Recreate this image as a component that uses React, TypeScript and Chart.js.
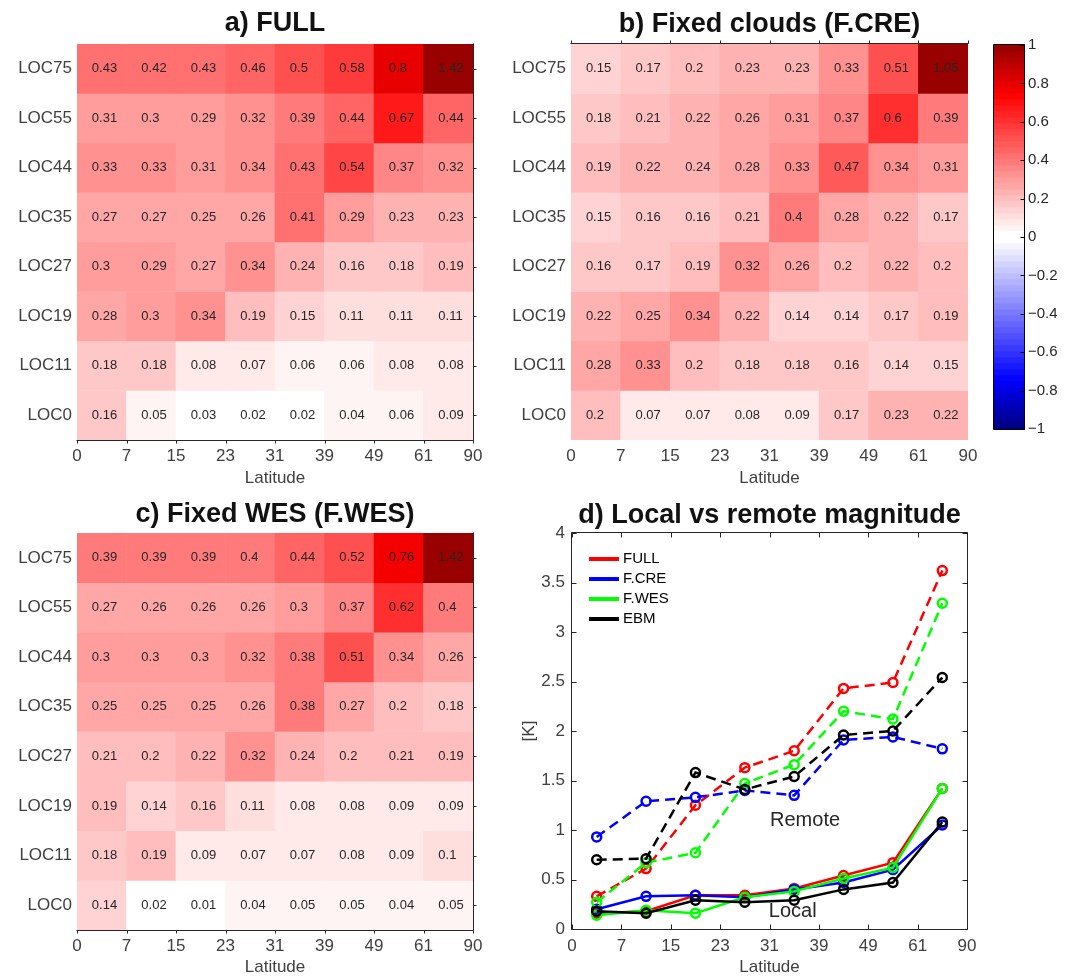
import React, { useEffect, useRef } from 'react';
import { Chart, registerables } from 'chart.js';

Chart.register(...registerables);

const FONT = '"Liberation Sans", Arial, Helvetica, sans-serif';
Chart.defaults.font.family = FONT;
Chart.defaults.color = '#404040';

// ---------------- data ----------------
const ROW_LABELS = ['LOC75', 'LOC55', 'LOC44', 'LOC35', 'LOC27', 'LOC19', 'LOC11', 'LOC0'];
const LAT_EDGES = ['0', '7', '15', '23', '31', '39', '49', '61', '90'];
const LAT_BIN_X = [0.5, 1.5, 2.5, 3.5, 4.5, 5.5, 6.5, 7.5];

const FULL_VALUES = [
  [0.43, 0.42, 0.43, 0.46, 0.5, 0.58, 0.8, 1.42],
  [0.31, 0.3, 0.29, 0.32, 0.39, 0.44, 0.67, 0.44],
  [0.33, 0.33, 0.31, 0.34, 0.43, 0.54, 0.37, 0.32],
  [0.27, 0.27, 0.25, 0.26, 0.41, 0.29, 0.23, 0.23],
  [0.3, 0.29, 0.27, 0.34, 0.24, 0.16, 0.18, 0.19],
  [0.28, 0.3, 0.34, 0.19, 0.15, 0.11, 0.11, 0.11],
  [0.18, 0.18, 0.08, 0.07, 0.06, 0.06, 0.08, 0.08],
  [0.16, 0.05, 0.03, 0.02, 0.02, 0.04, 0.06, 0.09],
];
const FCRE_VALUES = [
  [0.15, 0.17, 0.2, 0.23, 0.23, 0.33, 0.51, 1.05],
  [0.18, 0.21, 0.22, 0.26, 0.31, 0.37, 0.6, 0.39],
  [0.19, 0.22, 0.24, 0.28, 0.33, 0.47, 0.34, 0.31],
  [0.15, 0.16, 0.16, 0.21, 0.4, 0.28, 0.22, 0.17],
  [0.16, 0.17, 0.19, 0.32, 0.26, 0.2, 0.22, 0.2],
  [0.22, 0.25, 0.34, 0.22, 0.14, 0.14, 0.17, 0.19],
  [0.28, 0.33, 0.2, 0.18, 0.18, 0.16, 0.14, 0.15],
  [0.2, 0.07, 0.07, 0.08, 0.09, 0.17, 0.23, 0.22],
];
const FWES_VALUES = [
  [0.39, 0.39, 0.39, 0.4, 0.44, 0.52, 0.76, 1.42],
  [0.27, 0.26, 0.26, 0.26, 0.3, 0.37, 0.62, 0.4],
  [0.3, 0.3, 0.3, 0.32, 0.38, 0.51, 0.34, 0.26],
  [0.25, 0.25, 0.25, 0.26, 0.38, 0.27, 0.2, 0.18],
  [0.21, 0.2, 0.22, 0.32, 0.24, 0.2, 0.21, 0.19],
  [0.19, 0.14, 0.16, 0.11, 0.08, 0.08, 0.09, 0.09],
  [0.18, 0.19, 0.09, 0.07, 0.07, 0.08, 0.09, 0.1],
  [0.14, 0.02, 0.01, 0.04, 0.05, 0.05, 0.04, 0.05],
];

const SERIES_NAMES = ['FULL', 'F.CRE', 'F.WES', 'EBM'];
const REMOTE_FULL = [0.33, 0.61, 1.25, 1.63, 1.8, 2.43, 2.49, 3.62];
const REMOTE_FCRE = [0.93, 1.29, 1.33, 1.4, 1.35, 1.91, 1.94, 1.82];
const REMOTE_FWES = [0.27, 0.67, 0.77, 1.47, 1.66, 2.2, 2.12, 3.29];
const REMOTE_EBM = [0.7, 0.71, 1.58, 1.41, 1.54, 1.96, 2.0, 2.54];
const LOCAL_FULL = [0.16, 0.18, 0.34, 0.34, 0.41, 0.54, 0.67, 1.42];
const LOCAL_FCRE = [0.2, 0.33, 0.34, 0.32, 0.4, 0.47, 0.6, 1.05];
const LOCAL_FWES = [0.14, 0.19, 0.16, 0.32, 0.38, 0.51, 0.62, 1.42];
const LOCAL_EBM = [0.18, 0.16, 0.29, 0.27, 0.29, 0.4, 0.47, 1.08];

const CB_TICKS = [-1, -0.8, -0.6, -0.4, -0.2, 0, 0.2, 0.4, 0.6, 0.8, 1];

// ---------------- styles ----------------
const SERIES_COLORS = ['#ff0000', '#0000ff', '#00ff00', '#000000'];
const LEVELS_PER_SIDE = 32;
const RED_END = 153;
const BLUE_END = 135;

function colorFor(v: number): string {
  const a = Math.min(Math.abs(v), 1);
  const k = Math.min(Math.floor(a * LEVELS_PER_SIDE), LEVELS_PER_SIDE - 1);
  const c = k / (LEVELS_PER_SIDE - 1);
  const end = v >= 0 ? RED_END : BLUE_END;
  let hi: number, lo: number;
  if (c <= 0.75) {
    hi = 255;
    lo = Math.round(255 * (1 - c / 0.75));
  } else {
    hi = Math.round(255 - ((c - 0.75) / 0.25) * (255 - end));
    lo = 0;
  }
  return v >= 0 ? `rgb(${hi},${lo},${lo})` : `rgb(${lo},${lo},${hi})`;
}

function fmtCb(v: number): string {
  const r = Math.round(v * 10) / 10;
  if (r === 0) return '0';
  return (r < 0 ? '\u2212' : '') + String(Math.abs(r));
}

// ---------------- plugins ----------------
const cellLabelPlugin = {
  id: 'cellLabels',
  afterDatasetsDraw(chart: any) {
    const { ctx, scales } = chart;
    const x = scales.x, y = scales.y;
    ctx.save();
    ctx.font = `13px ${FONT}`;
    ctx.fillStyle = '#262626';
    ctx.textAlign = 'left';
    ctx.textBaseline = 'middle';
    chart.data.datasets.forEach((ds: any) => {
      ds.data.forEach((d: any) => {
        const px = x.getPixelForValue(d.x - 0.2);
        const py = y.getPixelForValue((d.y[0] + d.y[1]) / 2);
        ctx.fillText(String(d.v), px, py);
      });
    });
    ctx.restore();
  },
};

const framePlugin = {
  id: 'frame',
  afterDraw(chart: any, _args: any, o: any) {
    const { ctx, chartArea: ca, scales } = chart;
    const l = Math.round(ca.left) - 0.5;
    const r = Math.round(ca.right) + 0.5;
    const t = Math.round(ca.top) - 0.5;
    const b = Math.round(ca.bottom) + 0.5;
    const sides: string[] = o.sides || [];
    ctx.save();
    ctx.strokeStyle = o.color || '#262626';
    ctx.lineWidth = 1;
    ctx.beginPath();
    if (sides.includes('top')) { ctx.moveTo(l, t); ctx.lineTo(r, t); }
    if (sides.includes('bottom')) { ctx.moveTo(l, b); ctx.lineTo(r, b); }
    if (sides.includes('left')) { ctx.moveTo(l, t); ctx.lineTo(l, b); }
    if (sides.includes('right')) { ctx.moveTo(r, t); ctx.lineTo(r, b); }
    const len = o.tickLen || 4;
    const sign = o.tickDir === 'in' ? 1 : -1;
    (o.tickSides || []).forEach((side: string) => {
      const horiz = side === 'top' || side === 'bottom';
      const sc = horiz ? scales.x : scales.y;
      if (!sc) return;
      sc.ticks.forEach((tk: any) => {
        const p = Math.round(sc.getPixelForValue(tk.value)) + 0.5;
        if (side === 'bottom') { ctx.moveTo(p, b); ctx.lineTo(p, b - sign * len); }
        if (side === 'top') { ctx.moveTo(p, t); ctx.lineTo(p, t + sign * len); }
        if (side === 'left') { ctx.moveTo(l, p); ctx.lineTo(l + sign * len, p); }
        if (side === 'right') { ctx.moveTo(r, p); ctx.lineTo(r - sign * len, p); }
      });
    });
    ctx.stroke();
    ctx.restore();
  },
};

const lineLegendPlugin = {
  id: 'lineLegend',
  afterDraw(chart: any, _args: any, o: any) {
    const { ctx, chartArea: ca } = chart;
    const items = chart.data.datasets.filter((d: any) => d.showInLegend);
    ctx.save();
    ctx.font = `${o.fontSize}px ${FONT}`;
    ctx.textAlign = 'left';
    ctx.textBaseline = 'middle';
    items.forEach((d: any, i: number) => {
      const y = ca.top + o.offsetY + i * o.spacing;
      const x = ca.left + o.offsetX;
      ctx.strokeStyle = d.borderColor;
      ctx.lineWidth = o.lineWidth;
      ctx.setLineDash([]);
      ctx.beginPath();
      ctx.moveTo(x, y);
      ctx.lineTo(x + o.lineLength, y);
      ctx.stroke();
      ctx.fillStyle = '#000';
      ctx.fillText(d.label, x + o.lineLength + 4, y);
    });
    ctx.restore();
  },
};

const textNotePlugin = {
  id: 'textNotes',
  afterDraw(chart: any, _args: any, o: any) {
    const { ctx, scales } = chart;
    ctx.save();
    ctx.font = `${o.fontSize}px ${FONT}`;
    ctx.fillStyle = '#262626';
    ctx.textAlign = 'center';
    ctx.textBaseline = 'middle';
    (o.items || []).forEach((it: any) => {
      ctx.fillText(it.text, scales.x.getPixelForValue(it.x), scales.y.getPixelForValue(it.y));
    });
    ctx.restore();
  },
};

// ---------------- configs ----------------
function heatmapConfig(title: string, values: number[][], L: any): any {
  const n = ROW_LABELS.length;
  const datasets = values.map((row, i) => {
    const yIdx = n - 1 - i;
    return {
      label: ROW_LABELS[i],
      data: row.map((v, c) => ({ x: LAT_BIN_X[c], y: [yIdx, yIdx + 1], v })),
      backgroundColor: row.map(colorFor),
      borderWidth: 0,
      grouped: false,
      barPercentage: 1,
      categoryPercentage: 1,
    };
  });
  return {
    type: 'bar',
    data: { datasets },
    options: {
      animation: false,
      responsive: false,
      events: [],
      layout: { padding: { left: 0, right: L.rightPad, top: 0, bottom: 0 } },
      plugins: {
        legend: { display: false },
        tooltip: { enabled: false },
        title: {
          display: true,
          text: title,
          fullSize: false,
          color: '#111',
          font: { size: 27, weight: 'bold', lineHeight: 1 },
          padding: { top: L.titleTop, bottom: L.titleBottom },
        },
        frame: { color: '#262626', sides: L.sides, tickSides: L.tickSides, tickLen: 3, tickDir: 'out' },
      },
      scales: {
        x: {
          type: 'linear',
          min: 0,
          max: 8,
          offset: false,
          grid: { display: false, offset: false, drawTicks: false },
          border: { display: false },
          ticks: {
            stepSize: 1,
            autoSkip: false,
            maxRotation: 0,
            padding: 6.5,
            font: { size: 17 },
            callback: (v: number) => LAT_EDGES[v] ?? '',
          },
          title: { display: true, text: 'Latitude', font: { size: 17, lineHeight: 1 }, padding: { top: 0, bottom: L.xTitleBottom } },
          afterFit: (s: any) => { s.height = L.xHeight; },
        },
        y: {
          type: 'linear',
          min: 0,
          max: n,
          grid: { display: false, drawTicks: false },
          border: { display: false },
          afterBuildTicks: (s: any) => { s.ticks = ROW_LABELS.map((_, i) => ({ value: i + 0.5 })); },
          ticks: {
            autoSkip: false,
            padding: 5,
            font: { size: 17 },
            callback: (_v: number, i: number) => ROW_LABELS[n - 1 - i],
          },
          afterFit: (s: any) => { s.width = L.yWidth; },
        },
      },
    },
    plugins: [cellLabelPlugin, framePlugin],
  };
}

function colorbarConfig(): any {
  const data: any[] = [];
  const colors: string[] = [];
  for (let k = LEVELS_PER_SIDE - 1; k >= 0; k--) {
    const c = -(k + 0.5) / LEVELS_PER_SIDE;
    data.push({ y: c, x: [0, 1] });
    colors.push(colorFor(c));
  }
  for (let k = 0; k < LEVELS_PER_SIDE; k++) {
    const c = (k + 0.5) / LEVELS_PER_SIDE;
    data.push({ y: c, x: [0, 1] });
    colors.push(colorFor(c));
  }
  return {
    type: 'bar',
    data: {
      datasets: [{ label: 'colorbar', data, backgroundColor: colors, borderWidth: 0, barPercentage: 1, categoryPercentage: 1 }],
    },
    options: {
      animation: false,
      responsive: false,
      events: [],
      indexAxis: 'y',
      layout: { padding: { left: 9, right: 0, top: 45, bottom: 61 } },
      plugins: {
        legend: { display: false },
        tooltip: { enabled: false },
        frame: { color: '#000', sides: ['top', 'bottom', 'left', 'right'], tickSides: ['right'], tickLen: 4, tickDir: 'in' },
      },
      scales: {
        x: { type: 'linear', display: false, min: 0, max: 1 },
        y: {
          type: 'linear',
          position: 'right',
          min: -1,
          max: 1,
          offset: false,
          grid: { display: false, offset: false, drawTicks: false },
          border: { display: false },
          afterBuildTicks: (s: any) => { s.ticks = CB_TICKS.map((v) => ({ value: v })); },
          ticks: { autoSkip: false, padding: 4, font: { size: 15 }, color: '#262626', callback: (v: number) => fmtCb(v) },
          afterFit: (s: any) => { s.width = 43; },
        },
      },
    },
    plugins: [framePlugin],
  };
}

function linesConfig(): any {
  const remote = [REMOTE_FULL, REMOTE_FCRE, REMOTE_FWES, REMOTE_EBM];
  const local = [LOCAL_FULL, LOCAL_FCRE, LOCAL_FWES, LOCAL_EBM];
  const datasets: any[] = [];
  SERIES_NAMES.forEach((name, i) => {
    const common = {
      borderColor: SERIES_COLORS[i],
      borderWidth: 2.5,
      pointRadius: 4.5,
      pointBorderWidth: 2.5,
      pointBorderColor: SERIES_COLORS[i],
      pointBackgroundColor: 'rgba(0,0,0,0)',
      fill: false,
      tension: 0,
    };
    datasets.push({
      ...common,
      label: name + ' remote',
      data: remote[i].map((y, j) => ({ x: LAT_BIN_X[j], y })),
      borderDash: [10, 6],
      order: 8 - 2 * i,
      showInLegend: false,
    });
    datasets.push({
      ...common,
      label: name,
      data: local[i].map((y, j) => ({ x: LAT_BIN_X[j], y })),
      order: 7 - 2 * i,
      showInLegend: true,
    });
  });
  return {
    type: 'line',
    data: { datasets },
    options: {
      animation: false,
      responsive: false,
      events: [],
      layout: { padding: { left: 0, right: 100, top: 0, bottom: 0 } },
      plugins: {
        legend: { display: false },
        tooltip: { enabled: false },
        title: {
          display: true,
          text: 'd) Local vs remote magnitude',
          fullSize: false,
          color: '#111',
          font: { size: 27, weight: 'bold', lineHeight: 1 },
          padding: { top: 12.5, bottom: 3.5 },
        },
        frame: { color: '#262626', sides: ['top', 'bottom', 'left', 'right'], tickSides: ['top', 'bottom', 'left', 'right'], tickLen: 5, tickDir: 'in' },
        lineLegend: { offsetX: 17, offsetY: 26, spacing: 20, lineLength: 30, lineWidth: 4, fontSize: 15 },
        textNotes: {
          fontSize: 20,
          items: [
            { text: 'Remote', x: 4.72, y: 1.1 },
            { text: 'Local', x: 4.47, y: 0.175 },
          ],
        },
      },
      scales: {
        x: {
          type: 'linear',
          min: 0,
          max: 8,
          grid: { display: false, drawTicks: false },
          border: { display: false },
          ticks: { stepSize: 1, autoSkip: false, maxRotation: 0, padding: 7.5, font: { size: 17 }, callback: (v: number) => LAT_EDGES[v] ?? '' },
          title: { display: true, text: 'Latitude', font: { size: 17, lineHeight: 1 }, padding: { top: 0, bottom: 0 } },
          afterFit: (s: any) => { s.height = 47; },
        },
        y: {
          type: 'linear',
          min: 0,
          max: 4,
          grid: { display: false, drawTicks: false },
          border: { display: false },
          ticks: { stepSize: 0.5, padding: 7, font: { size: 17 }, callback: (v: number) => String(Math.round(v * 10) / 10) },
          title: { display: true, text: '[K]', font: { size: 17, lineHeight: 1 }, padding: { top: 30.5, bottom: 0 } },
          afterFit: (s: any) => { s.width = 82; },
        },
      },
    },
    plugins: [framePlugin, lineLegendPlugin, textNotePlugin],
  };
}

// ---------------- components ----------------
function ChartCanvas(props: { left: number; top: number; width: number; height: number; make: () => any }) {
  const ref = useRef<HTMLCanvasElement>(null);
  useEffect(() => {
    const chart = new Chart(ref.current as HTMLCanvasElement, props.make());
    return () => chart.destroy();
  }, []);
  return (
    <canvas
      ref={ref}
      width={props.width}
      height={props.height}
      style={{ position: 'absolute', left: props.left, top: props.top, width: props.width, height: props.height }}
    />
  );
}

export default function App() {
  return (
    <div style={{ position: 'absolute', left: 0, top: 0, width: 1067, height: 976, background: '#fff', overflow: 'hidden' }}>
      <ChartCanvas
        left={0}
        top={0}
        width={490}
        height={490}
        make={() =>
          heatmapConfig('a) FULL', FULL_VALUES, {
            rightPad: 17, yWidth: 77, titleTop: 10.5, titleBottom: 6.5, xHeight: 50, xTitleBottom: 3.5,
            sides: ['right', 'bottom'], tickSides: ['right', 'bottom'],
          })
        }
      />
      <ChartCanvas
        left={490}
        top={0}
        width={495}
        height={490}
        make={() =>
          heatmapConfig('b) Fixed clouds (F.CRE)', FCRE_VALUES, {
            rightPad: 17, yWidth: 81, titleTop: 11.5, titleBottom: 5.5, xHeight: 50, xTitleBottom: 3.5,
            sides: ['top'], tickSides: ['top'],
          })
        }
      />
      <ChartCanvas left={985} top={0} width={82} height={490} make={colorbarConfig} />
      <ChartCanvas
        left={0}
        top={490}
        width={490}
        height={486}
        make={() =>
          heatmapConfig('c) Fixed WES (F.WES)', FWES_VALUES, {
            rightPad: 17, yWidth: 77, titleTop: 11.5, titleBottom: 4.5, xHeight: 46, xTitleBottom: 0,
            sides: ['right', 'bottom'], tickSides: ['right', 'bottom'],
          })
        }
      />
      <ChartCanvas left={490} top={490} width={577} height={486} make={linesConfig} />
    </div>
  );
}
